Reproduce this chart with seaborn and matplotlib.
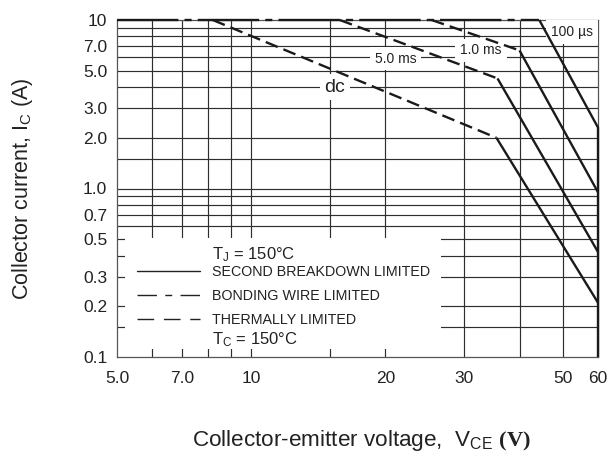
import matplotlib
matplotlib.use('Agg')
import matplotlib.pyplot as plt
import seaborn as sns
from matplotlib.lines import Line2D
from matplotlib.patches import Rectangle
from matplotlib.ticker import FixedLocator, FixedFormatter, NullFormatter

# ---------------- data ----------------
x_tick_values = [5, 7, 10, 20, 30, 50, 60]
x_tick_labels = ['5.0', '7.0', '10', '20', '30', '50', '60']
y_tick_values = [0.1, 0.2, 0.3, 0.5, 0.7, 1, 2, 3, 5, 7, 10]
y_tick_labels = ['0.1', '0.2', '0.3', '0.5', '0.7', '1.0', '2.0', '3.0', '5.0', '7.0', '10']
x_grid = [6, 7, 8, 9, 10, 15, 20, 30, 40, 50]
y_grid = [0.15, 0.2, 0.3, 0.4, 0.5, 0.6, 0.7, 0.8, 0.9, 1.0, 1.5, 2, 3, 4, 5, 6, 7, 8, 9]

# bonding-wire limit (top)
bonding_v = [5.0, 44.3]
bonding_i = [10.0, 10.0]

# dc
dc_thermal_v = [8.2, 35.5]
dc_thermal_i = [10.0, 2.0]
dc_sb_v = [35.5, 60.0]
dc_sb_i = [2.0, 0.21]

# 5.0 ms
ms5_thermal_v = [15.8, 35.7]
ms5_thermal_i = [10.0, 4.5]
ms5_sb_v = [35.7, 60.0]
ms5_sb_i = [4.5, 0.42]

# 1.0 ms
ms1_thermal_v = [25.4, 40.0]
ms1_thermal_i = [10.0, 6.6]
ms1_sb_v = [40.0, 60.0]
ms1_sb_i = [6.6, 0.95]

# 100 us (second breakdown then VCEO)
us100_sb_v = [44.3, 60.0, 60.0]
us100_sb_i = [10.0, 2.3, 0.1]

curve_names = ['100 µs', '1.0 ms', '5.0 ms', 'dc']
curve_label_v = [52.5, 32.8, 21.1, 15.4]
curve_label_i = [8.5, 6.6, 5.9, 4.0]

legend_labels = ['SECOND BREAKDOWN LIMITED', 'BONDING WIRE LIMITED', 'THERMALLY LIMITED']
tj_text = 'T$_{\\rm J}$ = 150°C'
tc_text = 'T$_{\\rm C}$ = 150°C'

# ---------------- style ----------------
sns.set_style('white')
plt.rcParams['font.family'] = ['Liberation Sans', 'DejaVu Sans']
plt.rcParams['mathtext.fontset'] = 'custom'
plt.rcParams['mathtext.rm'] = 'Liberation Sans'
plt.rcParams['mathtext.it'] = 'Liberation Sans'
plt.rcParams['mathtext.bf'] = 'Liberation Serif:bold'

INK = '#1a1a1a'
TXT = '#222222'
GRID = '#2e2e2e'

fig = plt.figure(figsize=(6.11, 4.55), dpi=100)
ax = fig.add_axes([117 / 611, 1 - 357 / 455, (598 - 117) / 611, (357 - 20) / 455])
ax.set_xscale('log')
ax.set_yscale('log')
ax.set_xlim(5, 60)
ax.set_ylim(0.1, 10)

# ticks & grid
ax.xaxis.remove_overlapping_locs = False
ax.yaxis.remove_overlapping_locs = False
ax.xaxis.set_major_locator(FixedLocator(x_tick_values))
ax.xaxis.set_major_formatter(FixedFormatter(x_tick_labels))
ax.yaxis.set_major_locator(FixedLocator(y_tick_values))
ax.yaxis.set_major_formatter(FixedFormatter(y_tick_labels))
ax.xaxis.set_minor_locator(FixedLocator(x_grid))
ax.yaxis.set_minor_locator(FixedLocator(y_grid))
ax.xaxis.set_minor_formatter(NullFormatter())
ax.yaxis.set_minor_formatter(NullFormatter())
ax.tick_params(which='both', length=0)
ax.tick_params(axis='x', which='major', labelsize=12.5, pad=10, colors=TXT)
ax.tick_params(axis='y', which='major', labelsize=12.5, pad=7, colors=TXT)
ax.grid(False, which='major')
ax.grid(True, which='minor', color=GRID, linewidth=0.85)

for side in ['left', 'bottom', 'top', 'right']:
    ax.spines[side].set_color('#555555')
    ax.spines[side].set_linewidth(0.9)

# white legend area covering grid (leaving short grid stubs as ticks)
ax.add_patch(Rectangle((0.0166, 0.024), 0.657, 0.33, transform=ax.transAxes,
                       facecolor='white', edgecolor='none', zorder=2))

solid = '-'
thermal = (0, (5.5, 2.6))
bonding = (0, (26, 2.6, 3, 2.6))
lw = 1.7

def seg(v, i, ls):
    sns.lineplot(x=v, y=i, ax=ax, color=INK, linewidth=lw, linestyle=ls,
                 sort=False, estimator=None, clip_on=False, zorder=5,
                 solid_capstyle='butt', dash_capstyle='butt')

seg(bonding_v, bonding_i, bonding)
seg(dc_thermal_v, dc_thermal_i, thermal)
seg(dc_sb_v, dc_sb_i, solid)
seg(ms5_thermal_v, ms5_thermal_i, thermal)
seg(ms5_sb_v, ms5_sb_i, solid)
seg(ms1_thermal_v, ms1_thermal_i, thermal)
seg(ms1_sb_v, ms1_sb_i, solid)
seg(us100_sb_v, us100_sb_i, solid)

# curve labels
for name, v, i in zip(curve_names, curve_label_v, curve_label_i):
    fs = 14 if name == 'dc' else 10
    ax.text(v, i, name, ha='center', va='center', fontsize=fs, color=TXT,
            zorder=4, bbox=dict(facecolor='white', edgecolor='none', pad=3.5))

# legend
handles = [
    Line2D([], [], color=TXT, lw=1.0, linestyle='-'),
    Line2D([], [], color=TXT, lw=1.0, linestyle=(0, (14, 6, 5, 6))),
    Line2D([], [], color=TXT, lw=1.0, linestyle=(0, (12, 7))),
]
leg = ax.legend(handles, legend_labels, loc='lower left', bbox_to_anchor=(0.0416, 0.088),
                frameon=False, fontsize=10.25, handlelength=4.4, handletextpad=0.84,
                labelspacing=0.72, borderpad=0.0, borderaxespad=0.0)
leg.set_zorder(6)
for t in leg.get_texts():
    t.set_color(TXT)

ax.text(0.1975, 0.305, tj_text, transform=ax.transAxes, ha='left', va='center',
        fontsize=12, color=TXT, zorder=6)
ax.text(0.1975, 0.0504, tc_text, transform=ax.transAxes, ha='left', va='center',
        fontsize=12, color=TXT, zorder=6)

ax.set_xlabel('Collector-emitter voltage,  V$_{\\rm CE}$ $\\mathbf{(V)}$', fontsize=16.2,
              color=TXT)
ax.xaxis.set_label_coords(0.508, -0.212)
ax.set_ylabel('Collector current, I$_{\\rm C}$ (A)', fontsize=15.5, color=TXT)
ax.yaxis.set_label_coords(-0.17, 0.5)

fig.savefig('out.png', dpi=100)
